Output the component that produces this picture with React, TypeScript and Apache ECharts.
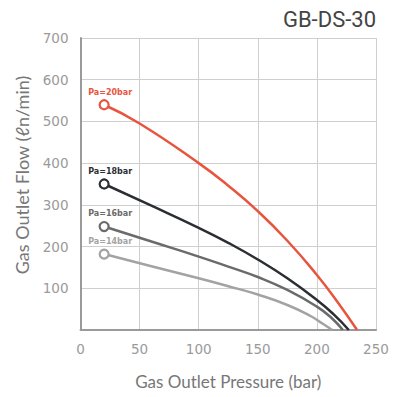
import React, { useEffect, useRef } from "react";
import * as echarts from "echarts";

const xTicks = [0, 50, 100, 150, 200, 250];
const yTicks = [0, 100, 200, 300, 400, 500, 600, 700];

const seriesNames = ["Pa=20bar", "Pa=18bar", "Pa=16bar", "Pa=14bar"];
const seriesColors = ["#e8553f", "#2b2e33", "#6b6b6b", "#a3a3a3"];
const pa20: number[][] = [[20, 540], [50, 495], [100, 400], [125, 346], [150, 285], [175, 214], [200, 132], [217, 69], [234, 0]];
const pa18: number[][] = [[20, 350], [60, 298], [100, 245], [125, 209], [150, 169], [175, 124], [200, 72], [214, 38], [227, 0]];
const pa16: number[][] = [[20, 248], [60, 212], [100, 176], [125, 152], [150, 127], [175, 96], [200, 56], [212, 30], [222, 0]];
const pa14: number[][] = [[20, 182], [60, 153], [100, 124], [125, 105], [150, 85], [175, 60], [195, 33], [205, 15], [213, 0]];
const allData = [pa20, pa18, pa16, pa14];

export default function App() {
  const ref = useRef<HTMLDivElement>(null);
  useEffect(() => {
    const chart = echarts.init(ref.current!, undefined, { renderer: "svg" });
    chart.setOption({
      animation: false,
      backgroundColor: "#ffffff",
      title: {
        text: "GB-DS-30",
        right: 20,
        top: 3,
        textStyle: { fontFamily: "Roboto", fontSize: 22, fontWeight: "normal", color: "#444" },
      },
      grid: { left: 80.5, right: 25, top: 38, bottom: 67 },
      graphic: [
        {
          type: "text",
          x: 22,
          y: 175,
          rotation: Math.PI / 2,
          style: {
            text: "Gas Outlet Flow (ℓn/min)",
            fontFamily: "Lato",
            fontSize: 18,
            fill: "#777",
            align: "center",
            verticalAlign: "middle",
          },
        },
      ],
      xAxis: {
        type: "value",
        min: 0,
        max: 250,
        interval: 50,
        name: "Gas Outlet Pressure (bar)",
        nameLocation: "middle",
        nameGap: 43,
        nameTextStyle: { fontFamily: "Lato", fontSize: 17, color: "#777" },
        axisLine: { show: true, lineStyle: { color: "#9a9a9a", width: 2 } },
        axisTick: { show: false },
        axisLabel: {
          margin: 12,
          fontFamily: "DejaVu Sans",
          fontSize: 13.5,
          color: "#9a9a9a",
          formatter: (v: number) => (xTicks.includes(v) ? String(v) : ""),
        },
        splitLine: { show: true, lineStyle: { color: "#cfcfcf", width: 1 } },
      },
      yAxis: {
        type: "value",
        min: 0,
        max: 700,
        interval: 100,
        axisLine: { show: true, lineStyle: { color: "#9a9a9a", width: 2 } },
        axisTick: { show: false },
        axisLabel: {
          margin: 12,
          fontFamily: "DejaVu Sans",
          fontSize: 13.5,
          color: "#9a9a9a",
          formatter: (v: number) => (v === 0 || !yTicks.includes(v) ? "" : String(v)),
        },
        splitLine: { show: true, lineStyle: { color: "#cfcfcf", width: 1 } },
      },
      series: allData.map((d, i) => ({
        type: "line",
        name: seriesNames[i],
        smooth: 0.5,
        color: seriesColors[i],
        lineStyle: { width: 2.5, color: seriesColors[i] },
        z: 10 - i,
        data: d.map((p, j) =>
          j === 0
            ? {
                value: p,
                symbol: "circle",
                symbolSize: 9,
                itemStyle: { color: "#fff", borderColor: seriesColors[i], borderWidth: 2.2 },
                label: {
                  show: true,
                  position: "top",
                  distance: 3,
                  offset: [6, 0],
                  formatter: seriesNames[i],
                  fontFamily: "DejaVu Sans",
                  fontSize: 8,
                  fontWeight: "bold",
                  color: seriesColors[i],
                },
              }
            : { value: p, symbol: "none" }
        ),
      })),
    });
    return () => chart.dispose();
  }, []);
  return <div ref={ref} style={{ position: "absolute", left: 0, top: 0, width: 401, height: 397 }} />;
}
